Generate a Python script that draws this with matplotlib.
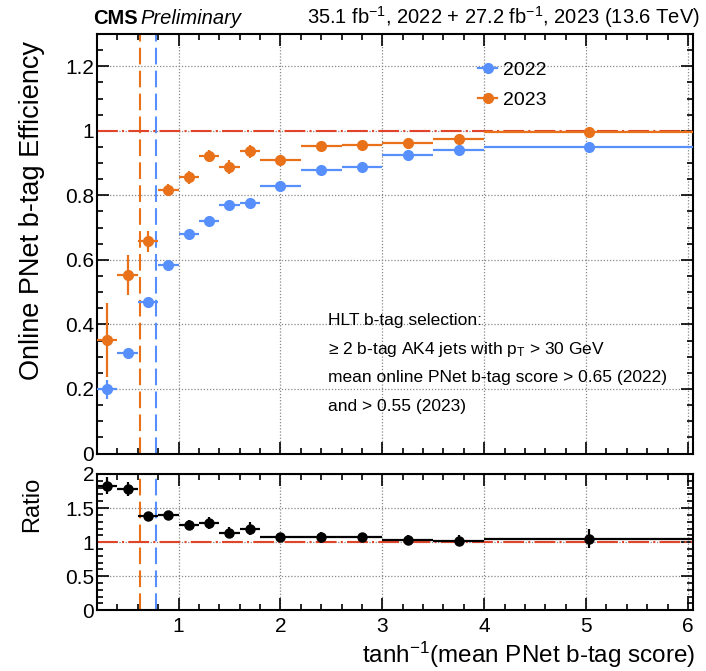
import numpy as np
import matplotlib
matplotlib.use("Agg")
import matplotlib.pyplot as plt
from matplotlib.lines import Line2D
from matplotlib.ticker import MultipleLocator, FixedLocator

plt.rcParams['font.family'] = ['Liberation Sans', 'DejaVu Sans']
plt.rcParams['mathtext.fontset'] = 'custom'
plt.rcParams['mathtext.rm'] = 'Liberation Sans'
plt.rcParams['mathtext.it'] = 'Liberation Sans:italic'

# bin edges in tanh^-1(mean PNet score)
bin_edges = np.array([0.2, 0.4, 0.6, 0.8, 1.0, 1.2, 1.4, 1.6, 1.8, 2.2, 2.6, 3.0, 3.5, 4.0, 6.05])

eff_2022 = [0.199, 0.312, 0.470, 0.583, 0.681, 0.722, 0.771, 0.777, 0.828, 0.879, 0.887, 0.926, 0.941, 0.949]
err_2022 = [0.030, 0.012, 0.010, 0.008, 0.007, 0.007, 0.007, 0.006, 0.006, 0.006, 0.006, 0.006, 0.006, 0.010]
eff_2023 = [0.351, 0.552, 0.658, 0.818, 0.856, 0.923, 0.887, 0.937, 0.910, 0.954, 0.956, 0.961, 0.975, 0.995]
err_2023 = [0.115, 0.062, 0.033, 0.018, 0.020, 0.018, 0.022, 0.020, 0.015, 0.010, 0.010, 0.010, 0.010, 0.008]
ratio = [1.83, 1.78, 1.39, 1.40, 1.25, 1.28, 1.14, 1.20, 1.08, 1.07, 1.07, 1.03, 1.02, 1.05]
ratio_err = [0.13, 0.10, 0.04, 0.04, 0.07, 0.09, 0.08, 0.10, 0.055, 0.085, 0.07, 0.07, 0.08, 0.14]

# HLT thresholds: atanh(0.65) for 2022, atanh(0.55) for 2023
thr_2022 = np.arctanh(0.65)
thr_2023 = np.arctanh(0.55)

blue = '#5790fc'
orange = '#e8711a'
red = '#e0452a'

x = 0.5 * (bin_edges[1:] + bin_edges[:-1])
xerr = 0.5 * (bin_edges[1:] - bin_edges[:-1])

W, H = 706, 671
fig = plt.figure(figsize=(W / 100, H / 100), dpi=100)
ax = fig.add_axes([97 / W, 1 - 453.5 / H, 596 / W, 419.5 / H])
rax = fig.add_axes([97 / W, 1 - 610.3 / H, 596 / W, 136.3 / H])

for a in (ax, rax):
    a.set_xlim(0.2, 6.05)
    a.xaxis.set_major_locator(MultipleLocator(1))
    a.xaxis.set_minor_locator(MultipleLocator(0.2))
    a.tick_params(which='both', direction='in', top=True, right=True, labelsize=15, width=1.2)
    a.tick_params(which='major', length=8.5)
    a.tick_params(which='minor', length=4.3)
    a.tick_params(axis='y', pad=2)
    a.tick_params(axis='x', pad=5)
    a.grid(True, which='major', linestyle=(0, (1, 1.5)), color='#888888', linewidth=0.9)
    for s in a.spines.values():
        s.set_linewidth(1.5)
    a.axvline(thr_2023, color=orange, linestyle=(0, (8, 3)), linewidth=1.5, zorder=2)
    a.axvline(thr_2022, color=blue, linestyle=(0, (8, 3)), linewidth=1.5, zorder=2)
    a.axhline(1.0, color=red, linestyle=(0, (10, 2, 1, 2)), linewidth=1.5, zorder=2)

# top panel
ax.set_ylim(0, 1.3)
ax.yaxis.set_major_locator(FixedLocator([0, 0.2, 0.4, 0.6, 0.8, 1.0, 1.2]))
ax.yaxis.set_minor_locator(MultipleLocator(0.05))
ax.set_yticklabels(['0', '0.2', '0.4', '0.6', '0.8', '1', '1.2'])
ax.tick_params(axis='x', labelbottom=False)

ax.errorbar(x, eff_2022, xerr=xerr, yerr=err_2022, fmt='o', color=blue, ms=7,
            elinewidth=1.6, capsize=0, zorder=4)
ax.errorbar(x, eff_2023, xerr=xerr, yerr=err_2023, fmt='o', color=orange, ms=7,
            elinewidth=1.6, capsize=0, zorder=4)

handles = [Line2D([], [], color=blue, marker='o', ms=7, lw=1.6),
           Line2D([], [], color=orange, marker='o', ms=7, lw=1.6)]
ax.legend(handles, ['2022', '2023'], loc='upper left', bbox_to_anchor=(0.639, 0.935),
          frameon=False, fontsize=14, handlelength=1.0, handletextpad=0.3,
          labelspacing=0.62, borderpad=0, borderaxespad=0)

sel_lines = ['HLT b-tag selection:',
             '\u2265 2 b-tag AK4 jets with p$_{\\mathrm{T}}$ > 30 GeV',
             'mean online PNet b-tag score > 0.65 (2022)',
             'and > 0.55 (2023)']
for i, line in enumerate(sel_lines):
    ax.text(0.3876, 0.318 - i * 0.069, line, transform=ax.transAxes,
            fontsize=12.5, ha='left', va='center')

# ratio panel
rax.set_ylim(0, 2)
rax.yaxis.set_major_locator(FixedLocator([0, 0.5, 1.0, 1.5, 2.0]))
rax.yaxis.set_minor_locator(MultipleLocator(0.1))
rax.set_yticklabels(['0', '0.5', '1', '1.5', '2'])
rax.errorbar(x, ratio, xerr=xerr, yerr=ratio_err, fmt='o', color='black', ms=6.5,
             elinewidth=1.6, capsize=0, zorder=4)

# axis titles and header
fig.text(32 / W, 1 - 210 / H, 'Online PNet b-tag Efficiency', rotation=90,
         ha='center', va='center', fontsize=19.5)
fig.text(32 / W, 1 - 504 / H, 'Ratio', rotation=90, ha='center', va='center', fontsize=17)
fig.text(695 / W, 1 - 655 / H, r'tanh$^{-1}$(mean PNet b-tag score)', ha='right',
         va='center', fontsize=17.5)
fig.text(93 / W, 1 - 24 / H, 'CMS', fontsize=14.5, fontweight='bold', va='baseline')
fig.text(140 / W, 1 - 24 / H, 'Preliminary', fontsize=14.5, style='italic', va='baseline')
fig.text(700 / W, 1 - 24 / H, r'35.1 fb$^{-1}$, 2022 + 27.2 fb$^{-1}$, 2023 (13.6 TeV)',
         fontsize=14.5, ha='right', va='baseline')

fig.savefig('out.png', dpi=100)
